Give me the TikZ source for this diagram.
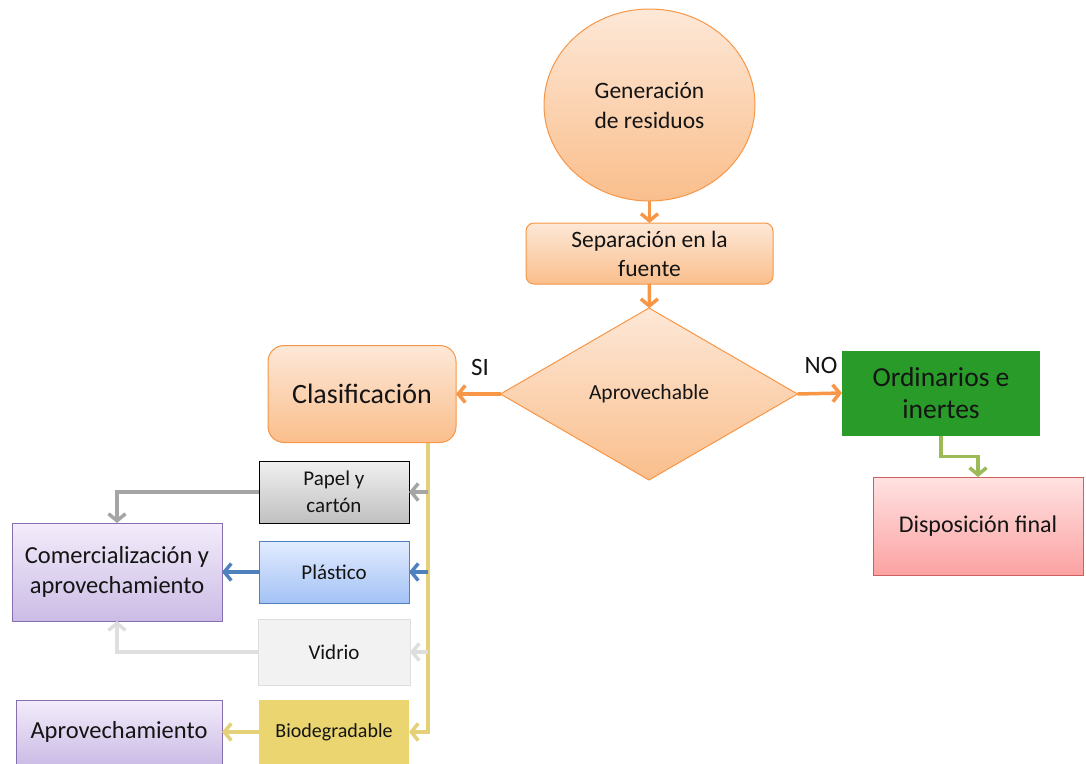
\documentclass[tikz,border=0pt]{standalone}
\usepackage{fontspec}
\setmainfont{Carlito}
\usetikzlibrary{arrows.meta,shapes.geometric}

% palette
\definecolor{orline}{RGB}{247,150,70}
\definecolor{ortop}{RGB}{253,232,215}
\definecolor{orbot}{RGB}{250,190,140}
\definecolor{txt}{RGB}{20,20,20}
\definecolor{greenbox}{RGB}{40,155,40}
\definecolor{greenline}{RGB}{155,187,89}
\definecolor{pinktop}{RGB}{255,226,226}
\definecolor{pinkbot}{RGB}{252,162,162}
\definecolor{pinkline}{RGB}{205,95,95}
\definecolor{graytop}{RGB}{240,240,240}
\definecolor{graybot}{RGB}{192,192,192}
\definecolor{grayline}{RGB}{165,165,165}
\definecolor{bluetop}{RGB}{226,236,255}
\definecolor{bluebot}{RGB}{163,194,245}
\definecolor{blueline}{RGB}{79,129,189}
\definecolor{glassfill}{RGB}{242,242,242}
\definecolor{glassline}{RGB}{222,222,222}
\definecolor{yelfill}{RGB}{234,213,112}
\definecolor{yelline}{RGB}{228,208,118}
\definecolor{purtop}{RGB}{243,236,250}
\definecolor{purbot}{RGB}{203,188,230}
\definecolor{purline}{RGB}{135,110,175}

\tikzset{
  box/.style={rectangle, inner sep=2pt, outer sep=0pt, align=center,
    text=txt, line width=1pt},
  orangebox/.style={box, draw=orline, top color=ortop, bottom color=orbot},
  purplebox/.style={box, draw=purline, top color=purtop, bottom color=purbot,
    minimum height=64, font=\fontsize{24.5}{30}\selectfont},
  matbox/.style={box, minimum width=150, minimum height=62,
    font=\fontsize{21}{27}\selectfont},
  link/.style={line width=3.5pt,
    -{Straight Barb[length=7pt,width=17pt]}},
  lbl/.style={text=txt, font=\fontsize{25}{30}\selectfont, inner sep=0pt}
}

\begin{document}
\begin{tikzpicture}[x=1pt,y=-1pt]
\useasboundingbox (0,0) rectangle (1086,763);

% main flow
\node[orangebox, ellipse, minimum width=211, minimum height=192,
  font=\fontsize{23.5}{30}\selectfont] (gen) at (649.5,105)
  {Generación\\de residuos};
\node[orangebox, rounded corners=8pt, minimum width=247, minimum height=61,
  font=\fontsize{23.5}{29}\selectfont] (sep) at (649.5,253.5)
  {Separación en la\\fuente};
\node[orangebox, diamond, aspect=1.727, minimum width=297, minimum height=172,
  font=\fontsize{21.5}{26}\selectfont] (apr) at (649,394) {Aprovechable};
\node[orangebox, rounded corners=16pt, minimum width=188, minimum height=97,
  font=\fontsize{28}{32}\selectfont] (cla) at (362,394) {Clasificación};
\node[box, fill=greenbox, minimum width=198, minimum height=85,
  font=\fontsize{27.5}{32}\selectfont] (ord) at (941,393)
  {Ordinarios e\\inertes};
\node[box, draw=pinkline, top color=pinktop, bottom color=pinkbot,
  minimum width=210, minimum height=98,
  font=\fontsize{24}{29}\selectfont] (dis) at (978,526) {Disposición final};

\node[lbl] (si) at (480,367) {SI};
\node[lbl] (no) at (821,365) {NO};

\draw[link, orline] (gen) -- (sep);
\draw[link, orline] (sep) -- (apr);
\draw[link, orline] (apr.west) -- (cla.east);
\draw[link, orline] (apr.east) -- (ord.west);
\draw[link, greenline] (ord.south) -- ++(0,21) -| (dis.north);

% material streams
\node[matbox, draw=black, top color=graytop, bottom color=graybot]
  (pap) at (334,492) {Papel y\\cartón};
\node[matbox, draw=blueline, top color=bluetop, bottom color=bluebot]
  (pla) at (334,572) {Plástico};
\node[matbox, draw=glassline, fill=glassfill, minimum width=152,
  minimum height=66] (vid) at (334,652) {Vidrio};
\node[matbox, fill=yelfill, minimum height=64,
  font=\fontsize{20}{25}\selectfont] (bio) at (334,732) {Biodegradable};

\node[purplebox, minimum width=210, minimum height=98] (com) at (117,572)
  {Comercialización y\\aprovechamiento};
\node[purplebox, minimum width=206] (ap2) at (119,732) {Aprovechamiento};

% distribution line from the classification step
\coordinate (ytop) at ([xshift=-28pt]cla.south east);
\draw[link, yelline] (ytop) |- (bio.east);
\draw[link, grayline] (pap.east -| ytop) -- (pap.east);
\draw[link, blueline] (pla.east -| ytop) -- (pla.east);
\draw[link, glassline] (vid.east -| ytop) -- (vid.east);

% destinations
\draw[link, grayline] (pap.west) -| (com.north);
\draw[link, blueline] (pla.west) -- (com.east);
\draw[link, glassline] (vid.west) -| (com.south);
\draw[link, yelline] (bio.west) -- (ap2.east);
\end{tikzpicture}
\end{document}
